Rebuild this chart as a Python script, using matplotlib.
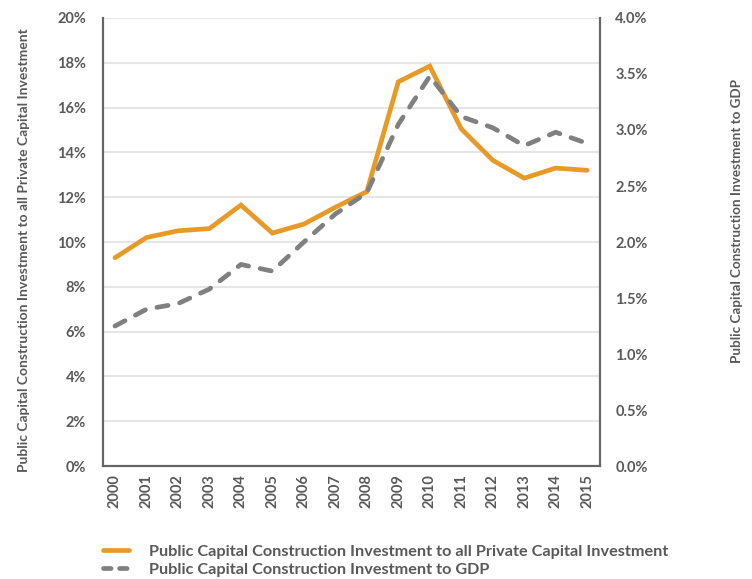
import matplotlib
matplotlib.use("Agg")
import matplotlib.pyplot as plt
from matplotlib.ticker import FuncFormatter
from matplotlib.lines import Line2D

years = ["2000", "2001", "2002", "2003", "2004", "2005", "2006", "2007",
         "2008", "2009", "2010", "2011", "2012", "2013", "2014", "2015"]
private_ratio = [9.3, 10.2, 10.5, 10.6, 11.65, 10.4, 10.8, 11.55,
                 12.25, 17.15, 17.85, 15.05, 13.65, 12.85, 13.3, 13.2]
gdp_ratio = [1.25, 1.40, 1.45, 1.58, 1.80, 1.74, 2.00, 2.25,
             2.44, 3.05, 3.48, 3.12, 3.02, 2.86, 2.98, 2.88]
left_ticks = [0, 2, 4, 6, 8, 10, 12, 14, 16, 18, 20]
right_ticks = [0.0, 0.5, 1.0, 1.5, 2.0, 2.5, 3.0, 3.5, 4.0]
label_private = "Public Capital Construction Investment to all Private Capital Investment"
label_gdp = "Public Capital Construction Investment to GDP"
ylabel_left = "Public Capital Construction Investment to all Private Capital Investment"
ylabel_right = "Public Capital Construction Investment to GDP"

plt.rcParams['font.family'] = ['Lato', 'DejaVu Sans']
txt = '#595959'
orange = '#E89A27'
gray = '#808080'
dash = (2.4, 2.5)

fig = plt.figure(figsize=(7.52, 5.79), dpi=100)
ax = fig.add_axes([0.137, 0.195, 0.661, 0.774])
ax2 = ax.twinx()

x = list(range(len(years)))
ax.plot(x, private_ratio, color=orange, lw=3.4, solid_joinstyle='miter', solid_capstyle='round', zorder=3)
ax2.plot(x, gdp_ratio, color=gray, lw=3.4, dashes=dash, dash_capstyle='round', zorder=3)

ax.set_ylim(0, 20)
ax2.set_ylim(0, 4)
ax.set_xlim(-0.38, 15.41)
ax.set_yticks(left_ticks)
ax2.set_yticks(right_ticks)
ax.yaxis.set_major_formatter(FuncFormatter(lambda v, p: f"{v:.0f}%"))
ax2.yaxis.set_major_formatter(FuncFormatter(lambda v, p: f"{v:.1f}%"))
ax.set_xticks(x)
ax.set_xticklabels(years, rotation=90)

ax.grid(axis='y', color='#e6e6e6', lw=1.5, zorder=0)
ax.set_axisbelow(True)

for a in (ax, ax2):
    for s in ['left', 'right', 'bottom']:
        a.spines[s].set_color('#666666')
        a.spines[s].set_linewidth(1.5)
    a.spines['top'].set_visible(False)
    a.tick_params(length=0, colors=txt, labelsize=10.5)
    for lab in a.get_yticklabels() + a.get_xticklabels():
        lab.set_fontweight('bold')
ax.tick_params(axis='y', pad=12)
ax2.tick_params(axis='y', pad=11)
ax.tick_params(axis='x', pad=6)

fig.text(0.032, 0.568, ylabel_left, rotation=90, ha='center', va='center',
         color=txt, fontsize=10, fontweight='bold')
fig.text(0.980, 0.618, ylabel_right, rotation=90, ha='center', va='center',
         color=txt, fontsize=9.7, fontweight='bold')

handles = [Line2D([0], [0], color=orange, lw=3.4, solid_capstyle='round'),
           Line2D([0], [0], color=gray, lw=3.4, dashes=(1.6, 1.8), dash_capstyle='round')]
leg = fig.legend(handles, [label_private, label_gdp], loc='lower left',
                 bbox_to_anchor=(0.137, 0.004), frameon=False, fontsize=11.7,
                 borderpad=0, borderaxespad=0,
                 handlelength=1.6, handletextpad=1.2, labelspacing=0.2)
for t in leg.get_texts():
    t.set_color(txt)
    t.set_fontweight('bold')

fig.savefig("out.png", dpi=100)
